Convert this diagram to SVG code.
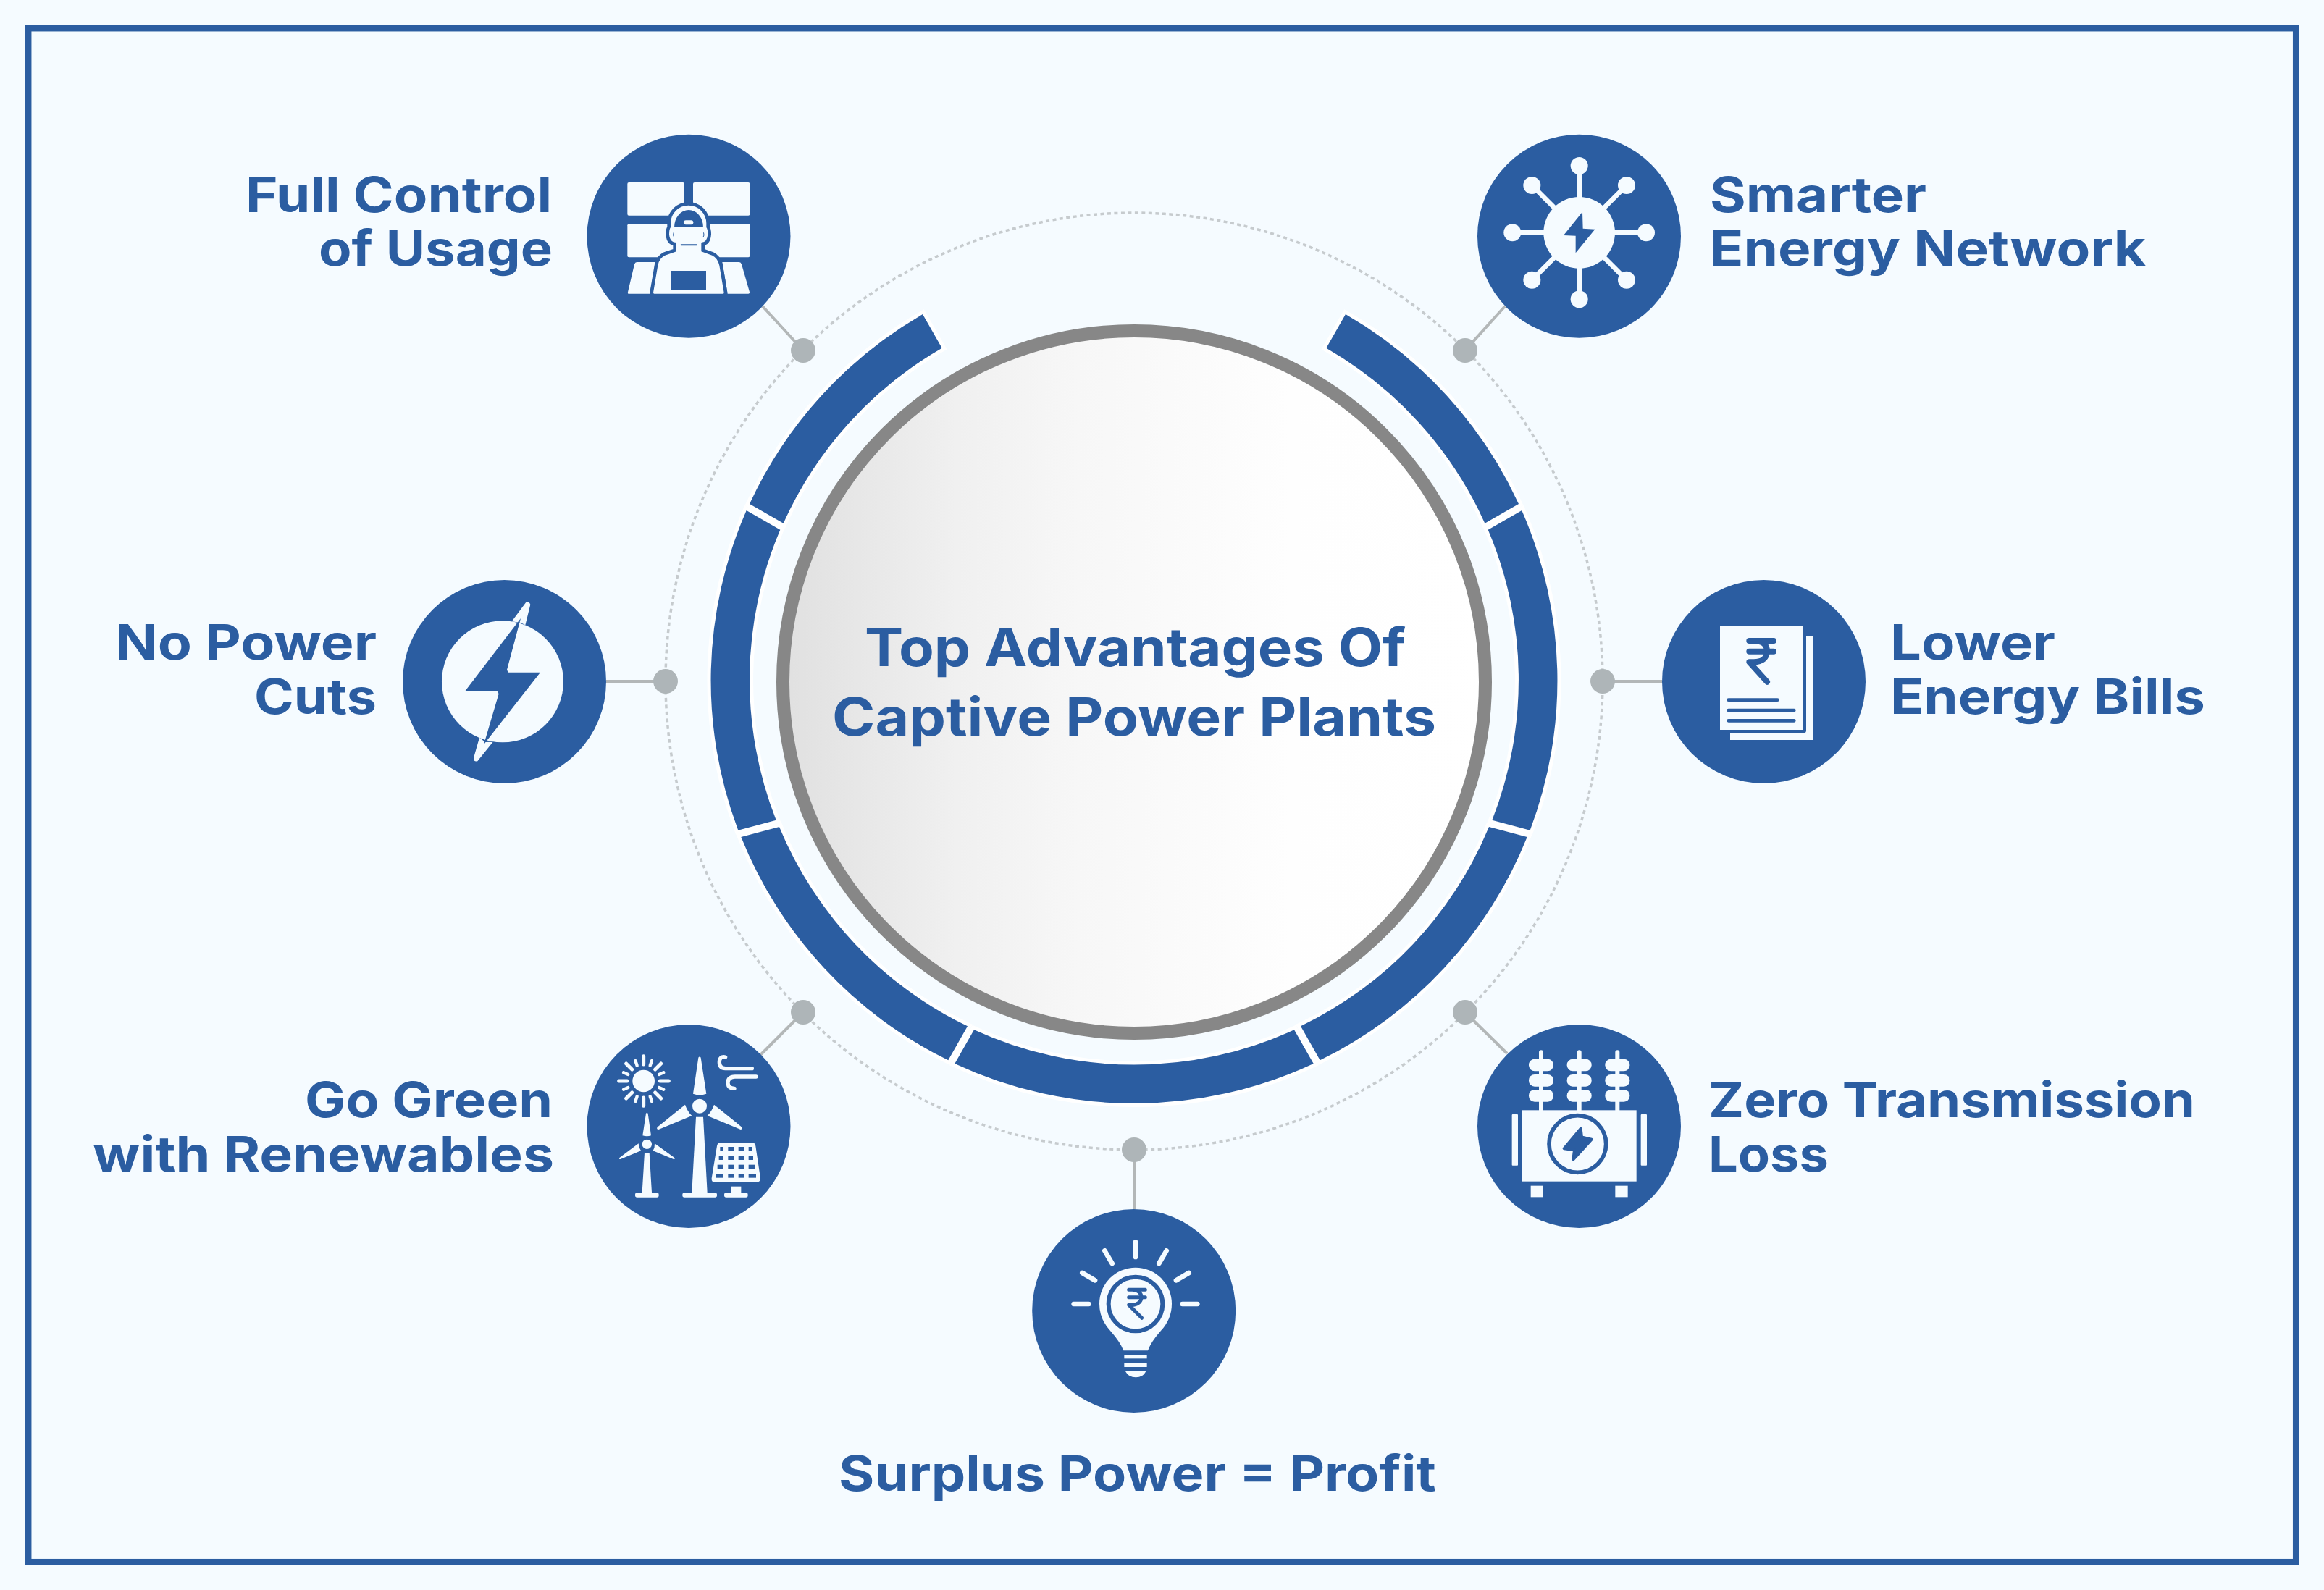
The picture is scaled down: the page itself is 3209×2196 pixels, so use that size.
<svg xmlns="http://www.w3.org/2000/svg" width="3209" height="2196" viewBox="0 0 3209 2196">
<defs>
<linearGradient id="disc" gradientUnits="userSpaceOnUse" x1="1077" y1="0" x2="2055" y2="0">
<stop offset="0" stop-color="#e0e0e0"/><stop offset=".25" stop-color="#f0f0f0"/><stop offset=".42" stop-color="#f7f7f7"/><stop offset=".72" stop-color="#fefefe"/><stop offset="1" stop-color="#fff"/>
</linearGradient>
</defs>
<style>
.bg{fill:#f5fbff}
.node{fill:#2b5da1}
.w{fill:#f5fbff}
.b{fill:#2b5da1}
.ws{fill:none;stroke:#f5fbff;stroke-linecap:round;stroke-linejoin:round}
.bs{fill:none;stroke:#2b5da1;stroke-linecap:round;stroke-linejoin:round}
.seg{fill:#2b5da1;stroke:#fff;stroke-width:10;stroke-linejoin:miter;stroke-miterlimit:6;paint-order:stroke}
.link{stroke:#b3b7b8;stroke-width:4;fill:none}
.dot{fill:#aeb5b8}
text{font-family:"Inter","Liberation Sans",sans-serif;font-weight:700;fill:#2b5da1;font-size:67px}
.title{font-size:73px}
</style>
<rect class="bg" width="3209" height="2196"/>
<rect x="39.2" y="39.2" width="3131" height="2118" fill="none" stroke="#2b5da1" stroke-width="8.5"/>

<g id="connectors">
<circle cx="1566" cy="941" r="647" fill="none" stroke="#c6cbce" stroke-width="3.5" stroke-dasharray="5 4.5"/>
<path class="link" d="M1053 423L1109 484M2078 423L2023 484M837 941H919M2295 941H2213M1050 1457L1109 1398M2081 1455L2023 1398M1566 1588V1670"/>
<g class="dots">
<circle class="dot" cx="1109" cy="484" r="17"/><circle class="dot" cx="2023" cy="484" r="17"/>
<circle class="dot" cx="919" cy="941" r="17"/><circle class="dot" cx="2213" cy="941" r="17"/>
<circle class="dot" cx="1109" cy="1398" r="17"/><circle class="dot" cx="2023" cy="1398" r="17"/>
<circle class="dot" cx="1566" cy="1588" r="17"/>
</g>
</g>

<g id="ring">
<path class="seg" d="M1274 434A585.5 585.5 0 0 0 1035 696L1081.7 722.7A530 530 0 0 1 1300.7 480.7Z"/>
<path class="seg" d="M1030.7 705A585.5 585.5 0 0 0 1019.3 1146.7L1071.7 1132.7A530 530 0 0 1 1077.3 731.7Z"/>
<path class="seg" d="M1023.3 1156A585.5 585.5 0 0 0 1309.3 1464.3L1336 1417.3A530 530 0 0 1 1076 1142Z"/>
<path class="seg" d="M1318.3 1469A585.5 585.5 0 0 0 1813.7 1469L1787 1422.3A530 530 0 0 1 1345 1422.3Z"/>
<path class="seg" d="M2108.7 1156A585.5 585.5 0 0 1 1822.7 1464.3L1796 1417.3A530 530 0 0 0 2056 1142Z"/>
<path class="seg" d="M2101.3 705A585.5 585.5 0 0 1 2112.7 1146.7L2060.3 1132.7A530 530 0 0 0 2054.7 731.7Z"/>
<path class="seg" d="M1858 434A585.5 585.5 0 0 1 2097 696L2050.3 722.7A530 530 0 0 0 1831.3 480.7Z"/>
</g>

<g id="center">
<circle cx="1566" cy="942" r="485" fill="url(#disc)" stroke="#878787" stroke-width="18"/>
<text class="title" x="1194" y="920" textLength="747" lengthAdjust="spacingAndGlyphs">Top Advantages Of</text>
<text class="title" x="1149" y="1016" textLength="834" lengthAdjust="spacingAndGlyphs">Captive Power Plants</text>
</g>

<g id="node-full-control">
<circle class="node" cx="951" cy="326.3" r="140.5"/>
<g transform="translate(780 160) scale(.33333)">
<rect class="w" x="259" y="276" width="236" height="137" rx="6"/>
<rect class="w" x="531" y="276" width="235" height="137" rx="6"/>
<rect class="w" x="259" y="448" width="236" height="138" rx="6"/>
<rect class="w" x="531" y="448" width="235" height="138" rx="6"/>
<path class="w" d="M298 606H376L352 737H264Q259 737 261 730L288 615Q291 606 298 606ZM652 606H722Q729 606 732 615L765 730Q766 737 760 737H674Z"/>
<path class="b" stroke="#2b5da1" stroke-width="28" stroke-linejoin="round" d="M366 733Q366 737 370 737H655Q659 737 659 733L640 620Q634 590 610 578L565 562V525Q590 525 592 490Q592 470 586 462V445A74 74 0 0 0 438 445V462Q432 470 432 490Q434 525 462 525V562L415 578Q390 590 385 620Z"/>
<path class="w" d="M366 733Q366 737 370 737H655Q659 737 659 733L640 620Q634 590 610 578L565 562V525Q590 525 592 490Q592 470 586 462V445A74 74 0 0 0 438 445V462Q432 470 432 490Q434 525 462 525V562L415 578Q390 590 385 620Z"/>
<path class="b" d="M453 462A60 72 0 0 1 573 462Z"/>
<rect class="w" x="492" y="433" width="40" height="18" rx="9"/>
<rect class="b" x="440" y="642" width="145" height="79"/>
<path class="bs" stroke-width="6" d="M482 535H545"/>
<path class="bs" stroke-width="3" d="M450 485Q446 495 452 503M575 485Q579 495 573 503"/>
</g>
</g>

<g id="node-smarter-network">
<circle class="node" cx="2180.5" cy="326.3" r="140.5"/>
<g transform="translate(2010 160) scale(.33333)">
<path class="ws" stroke-width="20" d="M512 207V760M235 484H789M316 288L708 680M708 288L316 680"/>
<circle class="w" cx="512" cy="484" r="148"/>
<circle class="w" cx="512" cy="207" r="36"/><circle class="w" cx="512" cy="760" r="36"/>
<circle class="w" cx="235" cy="484" r="36"/><circle class="w" cx="789" cy="484" r="36"/>
<circle class="w" cx="316" cy="288" r="36"/><circle class="w" cx="708" cy="288" r="36"/>
<circle class="w" cx="316" cy="680" r="36"/><circle class="w" cx="708" cy="680" r="36"/>
<path class="b" d="M525 398L447 495L497 497V568L577 470L527 467Z"/>
</g>
</g>

<g id="node-no-power-cuts">
<circle class="node" cx="696.5" cy="941.5" r="140.5"/>
<g transform="translate(530 780) scale(.33333)">
<circle class="w" cx="492" cy="484" r="252"/>
<path class="w" d="M530 235L588 157Q600 148 607 165L586 250L567 240ZM396 716L372 800Q372 818 388 814L452 734L420 735Z"/>
<path class="b" d="M567 222L336 524H470L476 535L414 745L648 446H515L510 435Z"/>
</g>
</g>

<g id="node-lower-bills">
<circle class="node" cx="2435.5" cy="941.5" r="140.5"/>
<g transform="translate(2270 780) scale(.33333)">
<path class="w" d="M672 295H702V726H357V698H660Q672 698 672 686Z"/>
<rect class="w" x="315" y="253" width="343" height="431"/>
<path class="bs" stroke-width="24" d="M436 315H537M436 359H537M436 315H455C495 315 510 335 510 358C510 385 490 403 455 403H436L510 485"/>
<path class="bs" stroke-width="14" d="M350 560H553M350 603H622M350 646H622"/>
</g>
</g>

<g id="node-go-green">
<circle class="node" cx="951" cy="1555.5" r="140.5"/>
<g transform="translate(780 1390) scale(.33333)">
<circle class="w" cx="326" cy="309" r="46"/>
<path class="ws" stroke-width="15" d="M326 206V240M326 378V412M224 309H258M394 309H430M254 237L278 261M398 237L374 261M254 381L278 357M398 381L374 357"/>
<path class="ws" stroke-width="13" d="M292 225L299 245M360 225L353 245M292 393L299 373M360 393L353 373M243 274L262 282M409 274L390 282M243 344L262 336M409 344L390 336"/>
<path class="w" d="M553 212Q558 205 563 212L586 362Q558 372 531 362Z"/>
<path class="w" d="M618 407L733 500Q738 510 728 510L590 453Q608 436 618 407ZM498 407L383 500Q378 510 388 510L526 453Q508 436 498 407Z"/>
<circle class="w" cx="558" cy="413" r="30"/>
<path class="w" d="M543 458H573L590 772H526Z"/>
<rect class="w" x="487" y="772" width="143" height="19" rx="8"/>
<path class="w" d="M336 444Q340 437 344 444L357 535Q340 541 322 535Z"/>
<path class="w" d="M372 568L453 626Q458 634 450 633L365 598Q373 585 372 568ZM305 568L227 626Q222 634 230 633L315 598Q306 585 305 568Z"/>
<circle class="w" cx="340" cy="571" r="20"/>
<path class="w" d="M330 606H350L360 772H320Z"/>
<rect class="w" x="291" y="772" width="98" height="19" rx="8"/>
<path class="ws" stroke-width="16" d="M665 210Q640 205 640 232Q640 256 665 257H775M792 291H705Q675 291 675 318Q677 340 702 340"/>
<path class="w" d="M630 578Q632 565 645 565H775Q788 565 790 578L810 712Q810 728 795 728H622Q606 728 608 712Z"/>
<g class="b">
<rect x="643" y="582" width="14" height="16"/><rect x="676" y="582" width="24" height="16"/><rect x="719" y="582" width="24" height="16"/><rect x="761" y="582" width="14" height="16"/>
<rect x="638" y="619" width="18" height="17"/><rect x="676" y="619" width="24" height="17"/><rect x="719" y="619" width="24" height="17"/><rect x="761" y="619" width="19" height="17"/>
<rect x="632" y="656" width="24" height="17"/><rect x="676" y="656" width="24" height="17"/><rect x="719" y="656" width="24" height="17"/><rect x="761" y="656" width="25" height="17"/>
<rect x="627" y="694" width="29" height="16"/><rect x="676" y="694" width="24" height="16"/><rect x="719" y="694" width="24" height="16"/><rect x="761" y="694" width="31" height="16"/>
</g>
<rect class="w" x="688" y="746" width="42" height="28"/>
<rect class="w" x="660" y="772" width="98" height="19" rx="8"/>
</g>
</g>

<g id="node-zero-loss">
<circle class="node" cx="2180.5" cy="1555.5" r="140.5"/>
<g transform="translate(2010 1390) scale(.33333)">
<path class="ws" stroke-width="18" d="M354 190V430M512 190V430M670 190V430"/>
<g class="w">
<rect x="303" y="218" width="102" height="50" rx="24"/><rect x="303" y="282" width="102" height="50" rx="24"/><rect x="303" y="345" width="102" height="50" rx="24"/>
<rect x="461" y="218" width="102" height="50" rx="24"/><rect x="461" y="282" width="102" height="50" rx="24"/><rect x="461" y="345" width="102" height="50" rx="24"/>
<rect x="619" y="218" width="102" height="50" rx="24"/><rect x="619" y="282" width="102" height="50" rx="24"/><rect x="619" y="345" width="102" height="50" rx="24"/>
<rect x="275" y="430" width="474" height="295"/>
<rect x="233" y="447" width="25" height="212" rx="3"/><rect x="767" y="447" width="25" height="212" rx="3"/>
<rect x="311" y="743" width="52" height="47"/><rect x="661" y="743" width="52" height="47"/>
</g>
<circle cx="505" cy="570" r="118" fill="none" stroke="#2b5da1" stroke-width="17"/>
<path class="b" stroke="#2b5da1" stroke-width="12" stroke-linejoin="round" d="M518 506L449 589L492 595L487 634L563 551L522 541Z"/>
</g>
</g>

<g id="node-surplus">
<circle class="node" cx="1565.7" cy="1810.5" r="140.5"/>
<g transform="translate(1400 1640) scale(.33333)">
<path class="ws" stroke-width="20" d="M504 227V288M376 262L407 315M632 262L601 315M283 354L336 385M725 354L672 385M248 483H310M698 483H760"/>
<path class="w" d="M454 676Q440 640 400 595Q354 545 354 482A150 150 0 0 1 654 482Q654 545 608 595Q568 640 555 676Z"/>
<circle cx="504" cy="483" r="112" fill="none" stroke="#2b5da1" stroke-width="18"/>
<path class="bs" stroke-width="15" d="M476 424H544M476 455H544M476 424H490C515 424 528 438 528 455C528 475 510 487 488 487H476L530 541"/>
<g class="w">
<rect x="457" y="694" width="94" height="15"/><rect x="457" y="727" width="94" height="17"/>
<path d="M462 762H547Q535 787 505 787Q475 787 462 762Z"/>
</g>
</g>
</g>

<g id="labels">
<text x="339" y="293" textLength="423" lengthAdjust="spacingAndGlyphs">Full Control</text>
<text x="440" y="367" textLength="323" lengthAdjust="spacingAndGlyphs">of Usage</text>
<text x="2361" y="293" textLength="299" lengthAdjust="spacingAndGlyphs">Smarter</text>
<text x="2361" y="367" textLength="602" lengthAdjust="spacingAndGlyphs">Energy Network</text>
<text x="159" y="911" textLength="361" lengthAdjust="spacingAndGlyphs">No Power</text>
<text x="351" y="986" textLength="169" lengthAdjust="spacingAndGlyphs">Cuts</text>
<text x="2610" y="911" textLength="228" lengthAdjust="spacingAndGlyphs">Lower</text>
<text x="2610" y="986" textLength="435" lengthAdjust="spacingAndGlyphs">Energy Bills</text>
<text x="421" y="1543" textLength="342" lengthAdjust="spacingAndGlyphs">Go Green</text>
<text x="128" y="1618" textLength="637" lengthAdjust="spacingAndGlyphs">with Renewables</text>
<text x="2359" y="1543" textLength="672" lengthAdjust="spacingAndGlyphs">Zero Transmission</text>
<text x="2359" y="1618" textLength="166" lengthAdjust="spacingAndGlyphs">Loss</text>
<text x="1158" y="2059" textLength="825" lengthAdjust="spacingAndGlyphs">Surplus Power = Profit</text>
</g>
</svg>
